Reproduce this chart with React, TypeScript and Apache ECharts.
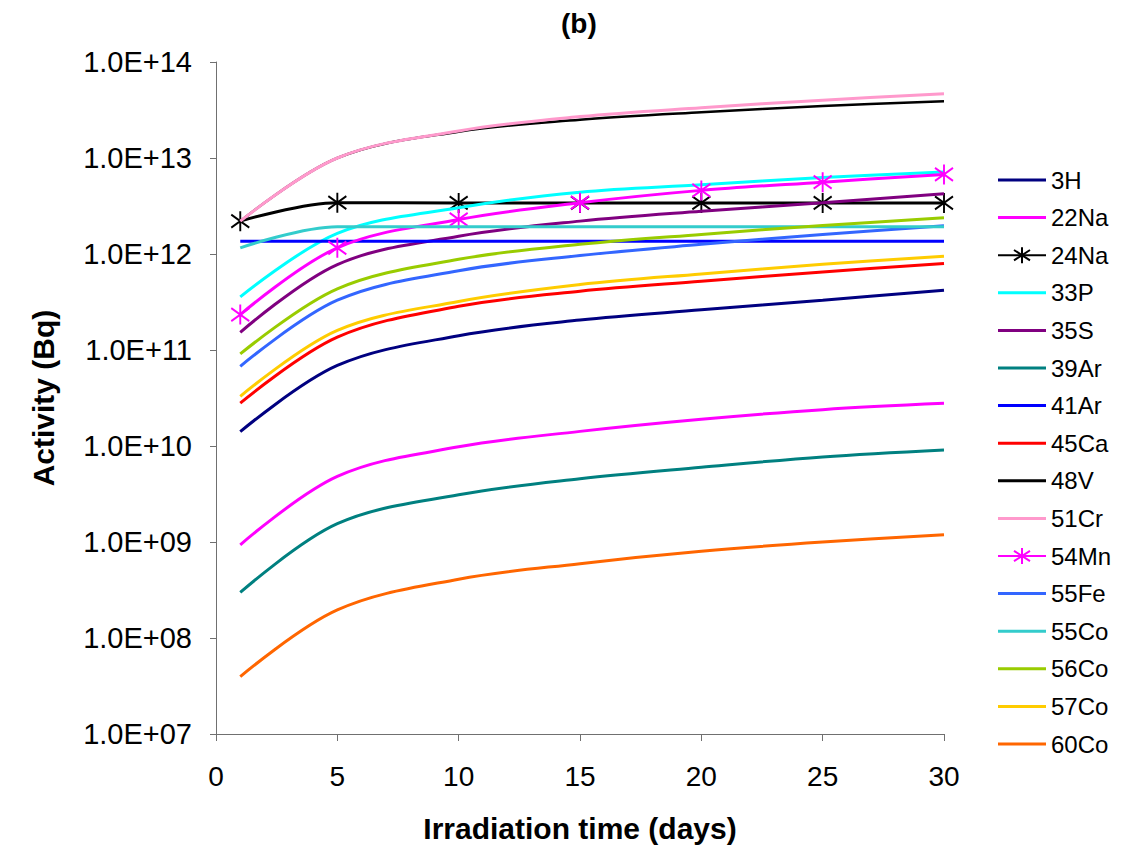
import React, { useEffect, useRef } from "react";
import * as echarts from "echarts";

const FONT = "'Liberation Sans', Arial, sans-serif";

const days = [1, 5, 10, 15, 20, 25, 30];

const seriesNames = ["3H", "22Na", "24Na", "33P", "35S", "39Ar", "41Ar", "45Ca", "48V", "51Cr", "54Mn", "55Fe", "55Co", "56Co", "57Co", "60Co"];
const seriesColors = ["#000080", "#FF00FF", "#000000", "#00FFFF", "#800080", "#008080", "#0000FF", "#FF0000", "#000000", "#FF99CC", "#FF00FF", "#3366FF", "#33CCCC", "#99CC00", "#FFCC00", "#FF6600"];
const markerSeries = ["24Na", "54Mn"];

const h3 = [1.41e10, 6.9e10, 1.41e11, 2.05e11, 2.62e11, 3.3e11, 4.19e11];
const na22 = [9.35e8, 4.82e9, 9.8e9, 1.42e10, 1.9e10, 2.39e10, 2.78e10];
const na24 = [2.2e12, 3.42e12, 3.4e12, 3.4e12, 3.4e12, 3.4e12, 3.4e12];
const p33 = [3.58e11, 1.64e12, 3.03e12, 4.4e12, 5.26e12, 6.28e12, 7.13e12];
const s35 = [1.53e11, 7.77e11, 1.53e12, 2.2e12, 2.79e12, 3.42e12, 4.25e12];
const ar39 = [2.98e8, 1.55e9, 3.1e9, 4.56e9, 6.0e9, 7.7e9, 9.1e9];
const ar41 = [1.36e12, 1.36e12, 1.36e12, 1.36e12, 1.36e12, 1.36e12, 1.36e12];
const ca45 = [2.8e10, 1.36e11, 2.85e11, 4.1e11, 5.2e11, 6.5e11, 7.96e11];
const v48 = [2.2e12, 1.0e13, 1.88e13, 2.5e13, 3.0e13, 3.48e13, 3.89e13];
const cr51 = [2.2e12, 1.0e13, 1.91e13, 2.7e13, 3.34e13, 4.0e13, 4.67e13];
const mn54 = [2.34e11, 1.16e12, 2.29e12, 3.42e12, 4.6e12, 5.6e12, 6.75e12];
const fe55 = [6.76e10, 3.3e11, 6.7e11, 9.65e11, 1.26e12, 1.6e12, 1.97e12];
const co55 = [1.16e12, 1.92e12, 1.92e12, 1.92e12, 1.92e12, 1.92e12, 1.92e12];
const co56 = [9.1e10, 4.34e11, 8.8e11, 1.26e12, 1.6e12, 1.98e12, 2.38e12];
const co57 = [3.29e10, 1.6e11, 3.2e11, 4.8e11, 6.2e11, 7.8e11, 9.5e11];
const co60 = [3.96e7, 1.96e8, 4.1e8, 5.95e8, 8.0e8, 1.0e9, 1.19e9];

const seriesValues = [h3, na22, na24, p33, s35, ar39, ar41, ca45, v48, cr51, mn54, fe55, co55, co56, co57, co60];

const ASTERISK = "path://M9,0 L9,20 M0,3.5 L18,16.5 M0,16.5 L18,3.5";
const LINE_ICON = "path://M0,0 L0.01,0 M0,8.5 L48,8.5 L48,11.5 L0,11.5 Z M0,20 L0.01,20";

export default function App() {
  const ref = useRef<HTMLDivElement>(null);

  useEffect(() => {
    if (!ref.current) return;
    const chart = echarts.init(ref.current, undefined, { renderer: "svg" });

    const series = seriesNames.map((name, i) => {
      const color = seriesColors[i];
      const hasMarker = markerSeries.includes(name);
      return {
        name,
        type: "line",
        smooth: 0.35,
        data: days.map((d, j) => [d, seriesValues[i][j]]),
        symbol: hasMarker ? ASTERISK : "none",
        symbolSize: hasMarker ? [18, 20] : 0,
        showSymbol: hasMarker,
        lineStyle: { color, width: name === "48V" ? 2.5 : 3 },
        itemStyle: { color, borderColor: color, borderWidth: hasMarker ? 2 : 0 },
        z: 2 + i * 0.01,
      };
    });

    const option = {
      animation: false,
      backgroundColor: "#ffffff",
      title: {
        text: "(b)",
        left: 556,
        top: 4,
        textStyle: { fontFamily: FONT, fontSize: 28, fontWeight: "bold", color: "#000" },
      },
      legend: {
        orient: "vertical",
        left: 997,
        top: 168,
        padding: 0,
        itemWidth: 48,
        itemHeight: 20,
        itemGap: 13.6,
        textStyle: { fontFamily: FONT, fontSize: 24, lineHeight: 20, color: "#000" },
        data: seriesNames.map((name) =>
          markerSeries.includes(name) ? { name } : { name, icon: LINE_ICON }
        ),
      },
      grid: { left: 216, right: 195, top: 62, bottom: 115, containLabel: false },
      xAxis: {
        type: "value",
        min: 0,
        max: 30,
        interval: 5,
        name: "Irradiation time (days)",
        nameLocation: "middle",
        nameGap: 79,
        nameTextStyle: { fontFamily: FONT, fontSize: 30, fontWeight: "bold", color: "#000" },
        axisLine: { show: true, lineStyle: { color: "#707070", width: 1 } },
        axisTick: { show: true, length: 7, lineStyle: { color: "#707070" } },
        axisLabel: { fontFamily: FONT, fontSize: 28, color: "#000", margin: 28 },
        splitLine: { show: false },
      },
      yAxis: {
        type: "log",
        logBase: 10,
        min: 1e7,
        max: 1e14,
        splitNumber: 7,
        name: "Activity (Bq)",
        nameLocation: "middle",
        nameGap: 158,
        nameTextStyle: { fontFamily: FONT, fontSize: 30, fontWeight: "bold", color: "#000" },
        axisLine: { show: true, lineStyle: { color: "#707070", width: 1 } },
        axisTick: { show: true, length: 6, lineStyle: { color: "#707070" } },
        axisLabel: {
          fontFamily: FONT,
          fontSize: 29,
          color: "#000",
          margin: 24,
          formatter: (v: number) => {
            const e = Math.round(Math.log10(v));
            return "1.0E+" + (e < 10 ? "0" + e : String(e));
          },
        },
        splitLine: { show: false },
        minorTick: { show: false },
      },
      series,
    };

    chart.setOption(option as any);
    return () => chart.dispose();
  }, []);

  return (
    <div
      ref={ref}
      style={{ position: "fixed", left: 0, top: 0, width: 1139, height: 849, background: "#fff" }}
    />
  );
}
